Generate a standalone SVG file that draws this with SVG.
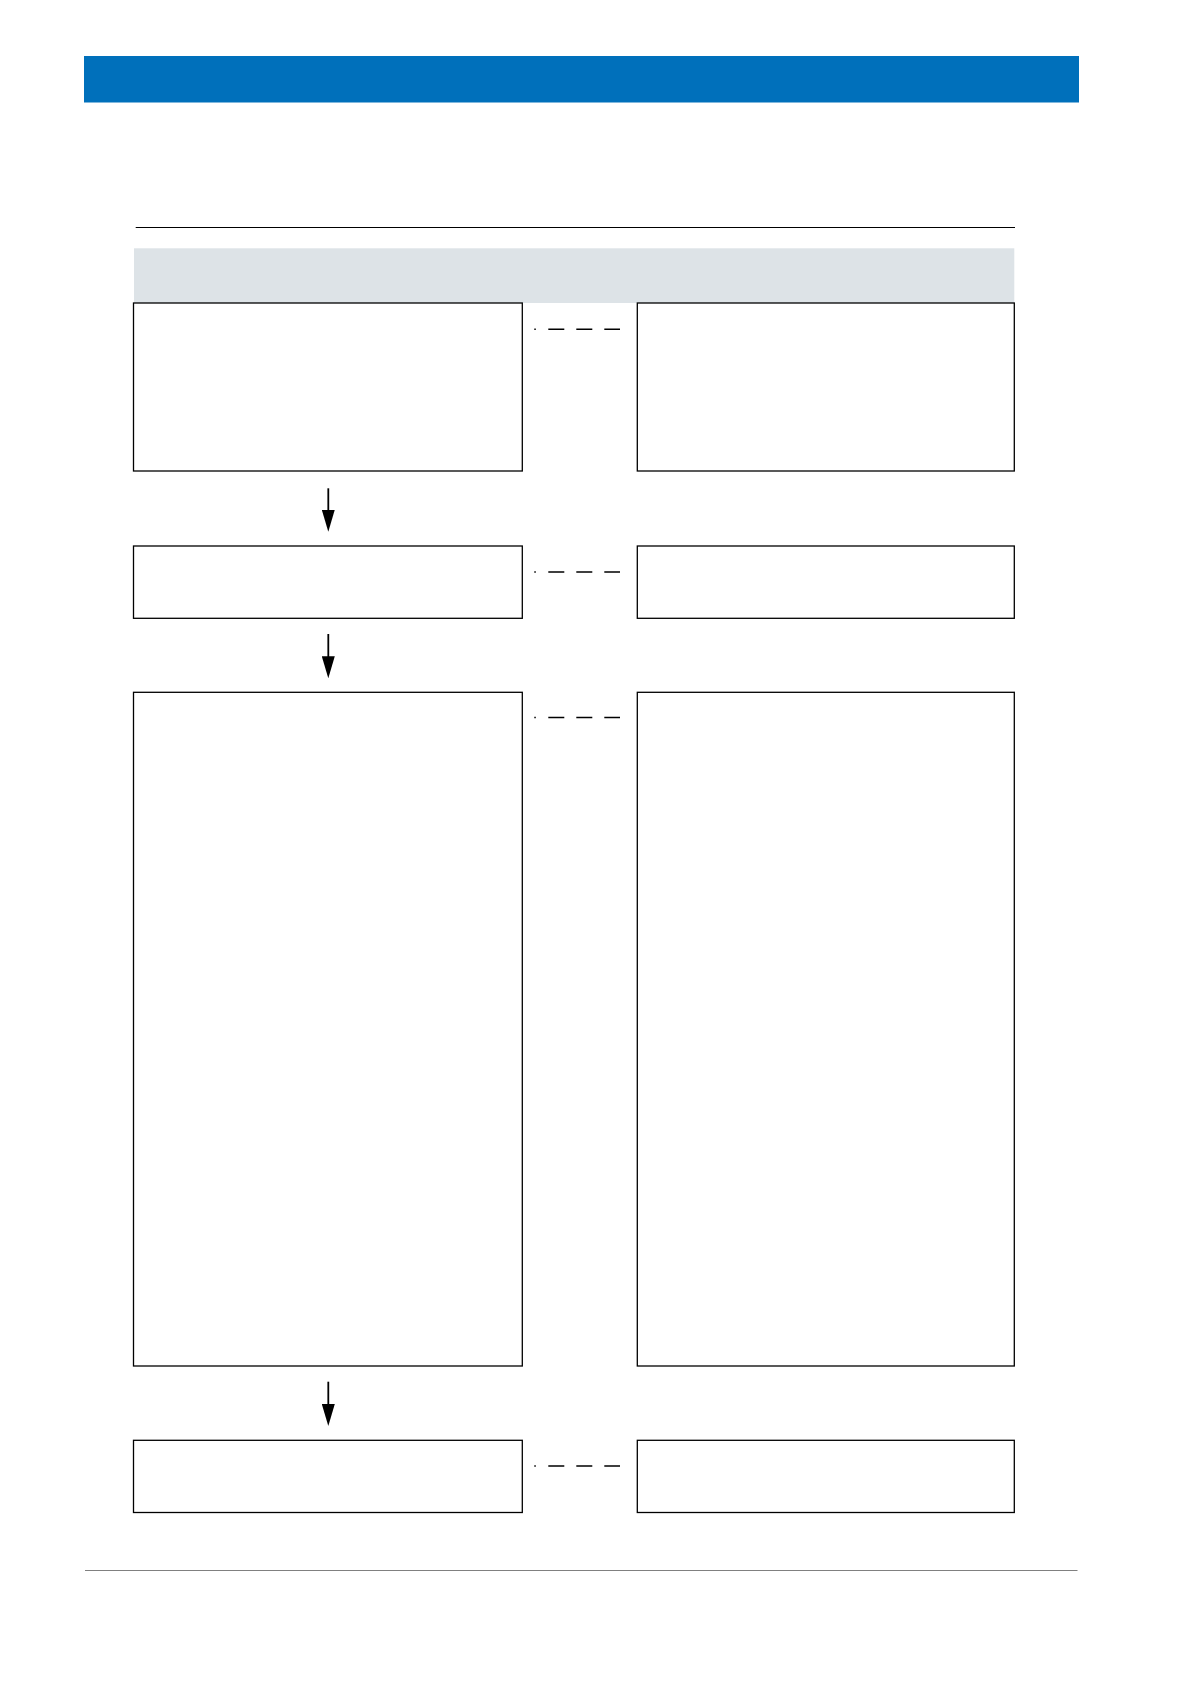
<svg xmlns="http://www.w3.org/2000/svg" width="1190" height="1684" viewBox="0 0 1190 1684">
  <style>
    .box { fill: #FFFFFF; stroke: #000000; stroke-width: 1.3; }
    .link { stroke: #000000; stroke-width: 1.5; fill: none; stroke-dasharray: 1.5 12.5 16 12 16 12 16; }
    .flow { stroke: #000000; stroke-width: 1.8; fill: none; marker-end: url(#arrow); }
  </style>
  <defs>
    <marker id="arrow" viewBox="0 0 22 13" refX="10" refY="6.5" markerWidth="22" markerHeight="13" markerUnits="userSpaceOnUse" orient="auto">
      <path d="M0,0 L22,6.5 L0,13 Z" fill="#000000"/>
    </marker>
  </defs>
  <rect width="1190" height="1684" fill="#FFFFFF"/>
  <g id="header">
    <rect x="84" y="56" width="995" height="46.5" fill="#0070BB"/>
    <line x1="135.7" y1="227.5" x2="1015" y2="227.5" stroke="#000000" stroke-width="1.2"/>
    <rect x="134" y="248.3" width="880.3" height="54.7" fill="#DDE3E7"/>
  </g>
  <g id="node-l1"><rect class="box" x="133.5" y="303" width="388.8" height="168"/></g>
  <g id="node-r1"><rect class="box" x="637.3" y="303" width="377" height="168"/></g>
  <g id="node-l2"><rect class="box" x="133.5" y="546" width="388.8" height="72.3"/></g>
  <g id="node-r2"><rect class="box" x="637.3" y="546" width="377" height="72.3"/></g>
  <g id="node-l3"><rect class="box" x="133.5" y="692.3" width="388.8" height="673.7"/></g>
  <g id="node-r3"><rect class="box" x="637.3" y="692.3" width="377" height="673.7"/></g>
  <g id="node-l4"><rect class="box" x="133.5" y="1440.3" width="388.8" height="72.2"/></g>
  <g id="node-r4"><rect class="box" x="637.3" y="1440.3" width="377" height="72.2"/></g>
  <g id="connectors">
    <line class="flow" x1="328.3" y1="488.3" x2="328.3" y2="519.7"/>
    <line class="flow" x1="328.3" y1="634" x2="328.3" y2="666.3"/>
    <line class="flow" x1="328.3" y1="1381.7" x2="328.3" y2="1414"/>
    <line class="link" x1="534.3" y1="329.3" x2="620" y2="329.3"/>
    <line class="link" x1="534.3" y1="572" x2="620" y2="572"/>
    <line class="link" x1="534.3" y1="717.5" x2="620" y2="717.5"/>
    <line class="link" x1="534.3" y1="1466" x2="620" y2="1466"/>
  </g>
  <g id="footer">
    <line x1="85" y1="1570.5" x2="1077.5" y2="1570.5" stroke="#808080" stroke-width="1.2"/>
  </g>
</svg>
